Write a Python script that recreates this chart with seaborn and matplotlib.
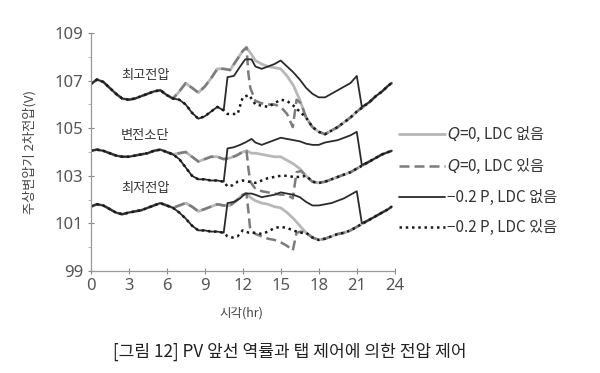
import matplotlib
matplotlib.use('Agg')
import matplotlib.pyplot as plt
import seaborn as sns
import pandas as pd
from matplotlib.lines import Line2D

# time axes (hr)
T_HEAD = [0, 0.5, 1, 1.5, 2, 2.5, 3, 3.5, 4, 4.5, 5, 5.5, 6, 6.5]
T_Q0 = [7, 7.5, 8, 8.5, 9, 9.5, 10, 10.5, 11, 11.5, 12, 12.3, 12.7, 13, 13.5, 14, 14.5, 15, 15.5, 16, 16.5, 17]
T_Q0_LDC = [12.45, 12.6, 13, 13.5, 14, 14.5, 15, 15.5, 15.95, 16.25, 16.6, 17]
T_P = [7, 7.5, 8, 8.5, 9, 9.5, 10, 10.5, 10.8, 11.3, 11.8, 12.2, 12.7, 13, 13.5, 14, 14.5, 15, 15.5, 16,
       16.5, 17, 17.5, 18, 18.5, 19, 19.5, 20, 20.5, 21, 21.4]
T_P_LDC = [10.8, 11.2, 11.6, 12, 12.5, 13, 13.5, 14, 14.5, 15, 15.5, 16, 16.5, 17]
T_TAIL = [17.5, 18, 18.5, 19, 19.5, 20, 20.5, 21, 21.5, 22, 22.5, 23, 23.5, 23.75]

# 최고전압 (V)
top_head = [106.85, 107.05, 106.95, 106.7, 106.45, 106.25, 106.2, 106.25, 106.35, 106.45, 106.55, 106.6, 106.4, 106.25]
top_q0 = [106.55, 106.9, 106.7, 106.5, 106.75, 107.1, 107.5, 107.5, 107.45, 107.85, 108.25, 108.4, 108.1, 107.85,
          107.7, 107.6, 107.55, 107.5, 107.2, 106.8, 106.2, 105.45]
top_q0_ldc = [107.3, 106.7, 106.15, 106.05, 106.0, 106.0, 105.9, 105.6, 105.05, 106.2, 106.05, 105.45]
top_tail = [105.05, 104.85, 104.75, 104.9, 105.05, 105.25, 105.45, 105.7, 105.9, 106.1, 106.35, 106.55, 106.8, 106.9]
top_p = [106.2, 106.0, 105.65, 105.4, 105.5, 105.7, 105.9, 105.75, 107.15, 107.2, 107.6, 107.9, 107.9, 107.6, 107.5,
         107.6, 107.7, 107.85, 107.6, 107.35, 107.05, 106.7, 106.45, 106.3, 106.3, 106.45, 106.6, 106.75, 106.9,
         107.2, 105.9]
top_p_ldc = [105.6, 105.6, 105.6, 106.3, 106.4, 106.0, 105.95, 105.9, 106.05, 106.2, 106.15, 105.95, 105.7, 105.45]

# 변전소단 (V)
mid_head = [104.05, 104.1, 104.05, 103.95, 103.85, 103.8, 103.8, 103.85, 103.9, 103.95, 104.05, 104.1, 104.0, 103.9]
mid_q0 = [103.95, 104.0, 103.8, 103.6, 103.7, 103.8, 103.8, 103.7, 103.75, 103.85, 104.0, 104.05, 103.95, 103.95,
          103.9, 103.85, 103.8, 103.8, 103.65, 103.5, 103.3, 103.0]
mid_q0_ldc = [103.3, 102.75, 102.45, 102.35, 102.3, 102.25, 102.2, 102.2, 102.05, 103.15, 103.2, 103.0]
mid_tail = [102.75, 102.7, 102.75, 102.85, 102.95, 103.05, 103.15, 103.3, 103.45, 103.6, 103.75, 103.9, 104.0, 104.05]
mid_p = [103.7, 103.35, 103.0, 102.85, 102.85, 102.8, 102.8, 102.75, 104.15, 104.2, 104.3, 104.4, 104.55, 104.4,
         104.3, 104.4, 104.5, 104.6, 104.55, 104.5, 104.45, 104.35, 104.3, 104.3, 104.4, 104.45, 104.5, 104.6,
         104.7, 104.85, 103.45]
mid_p_ldc = [102.55, 102.6, 102.75, 102.8, 102.75, 102.7, 102.8, 102.9, 102.95, 103.0, 103.0, 102.95, 102.95, 103.0]

# 최저전압 (V)
bot_head = [101.7, 101.8, 101.75, 101.6, 101.45, 101.38, 101.45, 101.5, 101.55, 101.65, 101.75, 101.85, 101.75, 101.65]
bot_q0 = [101.75, 101.85, 101.7, 101.5, 101.6, 101.7, 101.8, 101.75, 101.75, 101.95, 102.2, 102.25, 102.05, 101.95,
          101.85, 101.8, 101.7, 101.65, 101.45, 101.2, 100.9, 100.6]
bot_q0_ldc = [101.5, 100.7, 100.55, 100.45, 100.35, 100.3, 100.2, 100.05, 99.85, 100.6, 100.65, 100.6]
bot_tail = [100.4, 100.3, 100.35, 100.45, 100.55, 100.6, 100.7, 100.85, 101.0, 101.15, 101.3, 101.45, 101.6, 101.7]
bot_p = [101.45, 101.2, 100.9, 100.7, 100.7, 100.65, 100.65, 100.6, 101.85, 101.9, 102.05, 102.25, 102.25, 102.2,
         102.1, 102.15, 102.2, 102.3, 102.25, 102.2, 102.1, 101.9, 101.75, 101.75, 101.8, 101.85, 101.95, 102.05,
         102.2, 102.35, 101.0]
bot_p_ldc = [100.45, 100.4, 100.45, 100.7, 100.6, 100.6, 100.55, 100.65, 100.8, 100.85, 100.8, 100.7, 100.6, 100.6]

GROUPS = {
    '최고전압': (top_head, top_q0, top_q0_ldc, top_tail, top_p, top_p_ldc),
    '변전소단': (mid_head, mid_q0, mid_q0_ldc, mid_tail, mid_p, mid_p_ldc),
    '최저전압': (bot_head, bot_q0, bot_q0_ldc, bot_tail, bot_p, bot_p_ldc),
}
GROUP_LABEL_POS = {'최고전압': 107.2, '변전소단': 104.7, '최저전압': 102.45}

LABELS = ['$Q$=0, LDC 없음', '$Q$=0, LDC 있음', '−0.2 P, LDC 없음', '−0.2 P, LDC 있음']
STYLES = [
    dict(color='#b8b8b8', lw=2.0, linestyle='-'),
    dict(color='#7c7c7c', lw=1.8, linestyle=(0, (4, 2))),
    dict(color='#2b2b2b', lw=1.3, linestyle='-'),
    dict(color='#1a1a1a', lw=1.8, linestyle=(0, (1, 1.5))),
]

sns.set_style('ticks')
KR = ['Noto Sans CJK KR', 'DejaVu Sans']
plt.rcParams['font.family'] = KR
plt.rcParams['mathtext.fontset'] = 'custom'
plt.rcParams['mathtext.rm'] = 'Noto Sans CJK KR'
plt.rcParams['mathtext.it'] = 'DejaVu Sans:italic'


def build_series(head, q0, q0_ldc, tail, p, p_ldc):
    """Assemble the four curves of one voltage group from the shared segments."""
    series = [
        (T_HEAD + T_Q0 + T_TAIL, head + q0 + tail),
        (T_HEAD + T_Q0[:12] + T_Q0_LDC + T_TAIL, head + q0[:12] + q0_ldc + tail),
        (T_HEAD + T_P + T_TAIL[9:], head + p + tail[9:]),
        (T_HEAD + T_P[:8] + T_P_LDC + T_TAIL, head + p[:8] + p_ldc + tail),
    ]
    return series


fig = plt.figure(figsize=(6.0, 3.73), dpi=100)
ax = fig.add_axes([0.151, 0.274, 0.507, 0.637])

for name, parts in GROUPS.items():
    for (t, v), st in zip(build_series(*parts), STYLES):
        df = pd.DataFrame({'t': t, 'v': v})
        sns.lineplot(data=df, x='t', y='v', ax=ax, sort=False, estimator=None, **st)
    ax.text(4.3, GROUP_LABEL_POS[name], name, ha='center', va='center', fontsize=9.5, color='#333333')

ax.set_xlim(0, 24)
ax.set_ylim(99, 109)
ax.set_xticks(range(0, 25, 3))
ax.set_yticks(range(99, 110, 2))
ax.set_yticks(range(100, 109, 2), minor=True)
ax.set_xlabel('')
ax.set_ylabel('')
for lab in ax.get_xticklabels() + ax.get_yticklabels():
    lab.set_family(['Noto Sans', 'DejaVu Sans'])
ax.tick_params(axis='both', which='major', labelsize=12, colors='#888888', labelcolor='#555555',
               length=4, width=0.8, direction='inout')
ax.tick_params(axis='y', which='minor', length=2, width=0.6, colors='#aaaaaa')
sns.despine(ax=ax)
for sp in ['left', 'bottom']:
    ax.spines[sp].set_color('#999999')
    ax.spines[sp].set_linewidth(0.9)

fig.text(0.05, 0.592, '주상변압기 2차전압(V)', rotation=90, ha='center', va='center', fontsize=9.5, color='#444444')
fig.text(0.403, 0.16, '시각(hr)', ha='center', va='center', fontsize=9, color='#444444')
fig.text(0.483, 0.056, '[그림 12] PV 앞선 역률과 탭 제어에 의한 전압 제어', ha='center', va='center',
         fontsize=12.3, fontweight='medium', color='#222222')

handles = [Line2D([], [], **st) for st in STYLES]
fig.legend(handles, LABELS, loc='center left', bbox_to_anchor=(0.665, 0.515), frameon=False,
           borderpad=0, borderaxespad=0, handlelength=3.0, handletextpad=0.15, labelspacing=0.85,
           prop={'family': KR, 'size': 11, 'weight': 'medium'}, labelcolor='#333333')

fig.savefig('out.png', dpi=100)
